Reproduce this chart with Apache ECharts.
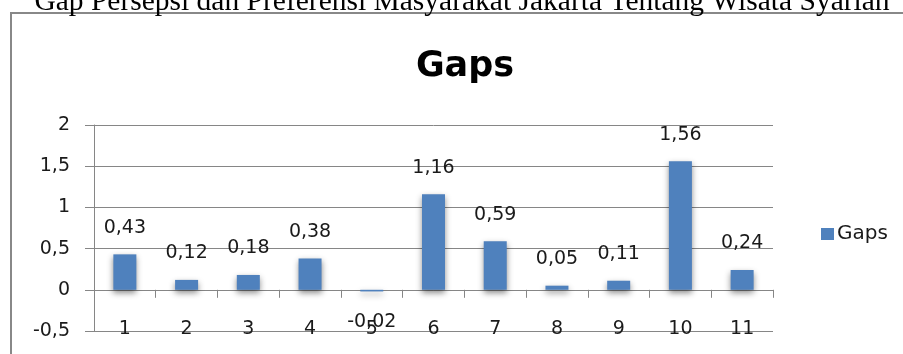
<!DOCTYPE html>
<html>
<head>
<meta charset="utf-8">
<script src="https://cdn.jsdelivr.net/npm/echarts@6/dist/echarts.min.js"></script>
<style>
html,body{margin:0;padding:0;background:#fff;}
#c{width:903px;height:354px;}
</style>
</head>
<body>
<div id="c"></div>
<script>
var categories = ['1','2','3','4','5','6','7','8','9','10','11'];
var gapValues = [0.43, 0.12, 0.18, 0.38, -0.02, 1.16, 0.59, 0.05, 0.11, 1.56, 0.24];
var seriesName = 'Gaps';
var chartTitle = 'Gaps';
var caption = 'Gap Persepsi dan Preferensi Masyarakat Jakarta Tentang Wisata Syariah';

var fmt = function (v) { return String(v).replace('.', ','); };
var labelFont = 'DejaVu Sans';

var chart = echarts.init(document.getElementById('c'), null, {renderer: 'canvas'});
chart.setOption({
  animation: false,
  backgroundColor: '#ffffff',
  title: {
    text: chartTitle,
    left: 460,
    top: 44,
    textAlign: 'center',
    textStyle: {fontFamily: labelFont, fontWeight: 'bold', fontSize: 35, color: '#000'}
  },
  legend: {
    data: [seriesName],
    left: 816,
    top: 219,
    icon: 'rect',
    itemWidth: 13,
    itemHeight: 12,
    itemGap: 8,
    textStyle: {fontFamily: labelFont, fontSize: 20, color: '#1a1a1a', padding: [0,0,0,-2]}
  },
  grid: {left: 94, right: 130, top: 125, bottom: 23, containLabel: false, outerBoundsMode: 'none'},
  xAxis: {
    type: 'category',
    data: categories,
    boundaryGap: true,
    axisLine: {onZero: true, lineStyle: {color: '#868686', width: 1}},
    axisTick: {show: true, length: 8, alignWithLabel: false, lineStyle: {color: '#868686'}},
    axisLabel: {margin: -11, fontFamily: labelFont, fontSize: 19, color: '#1a1a1a'},
    splitLine: {show: false}
  },
  yAxis: {
    type: 'value',
    min: -0.5,
    max: 2,
    interval: 0.5,
    axisLine: {show: true, lineStyle: {color: '#868686', width: 1}},
    axisTick: {show: true, length: 9, lineStyle: {color: '#868686'}},
    axisLabel: {margin: 24, fontFamily: labelFont, fontSize: 19, color: '#1a1a1a', formatter: fmt},
    splitLine: {show: true, lineStyle: {color: '#868686', width: 1}}
  },
  series: [{
    name: seriesName,
    type: 'bar',
    barWidth: 23,
    data: gapValues.map(function (v) {
      return {value: v, label: v < 0 ? {position: 'bottom', distance: 21} : {position: 'top'}};
    }),
    itemStyle: {
      color: '#4F81BD',
      shadowColor: 'rgba(0,0,0,0.45)',
      shadowBlur: 6,
      shadowOffsetX: 0,
      shadowOffsetY: 3
    },
    label: {
      show: true,
      distance: 17,
      fontFamily: labelFont,
      fontSize: 19,
      color: '#1a1a1a',
      formatter: function (p) { return fmt(p.value); }
    }
  }],
  graphic: [
    {
      type: 'rect',
      shape: {x: 11, y: 13, width: 1000, height: 400},
      style: {fill: 'none', stroke: '#888888', lineWidth: 2},
      z: -1,
      silent: true
    },
    {
      type: 'text',
      x: 462,
      y: 17,
      style: {
        text: caption,
        fontFamily: 'Liberation Serif',
        fontSize: 29.5,
        fill: '#000',
        textAlign: 'center',
        textVerticalAlign: 'bottom'
      },
      silent: true
    }
  ]
});
</script>
</body>
</html>
